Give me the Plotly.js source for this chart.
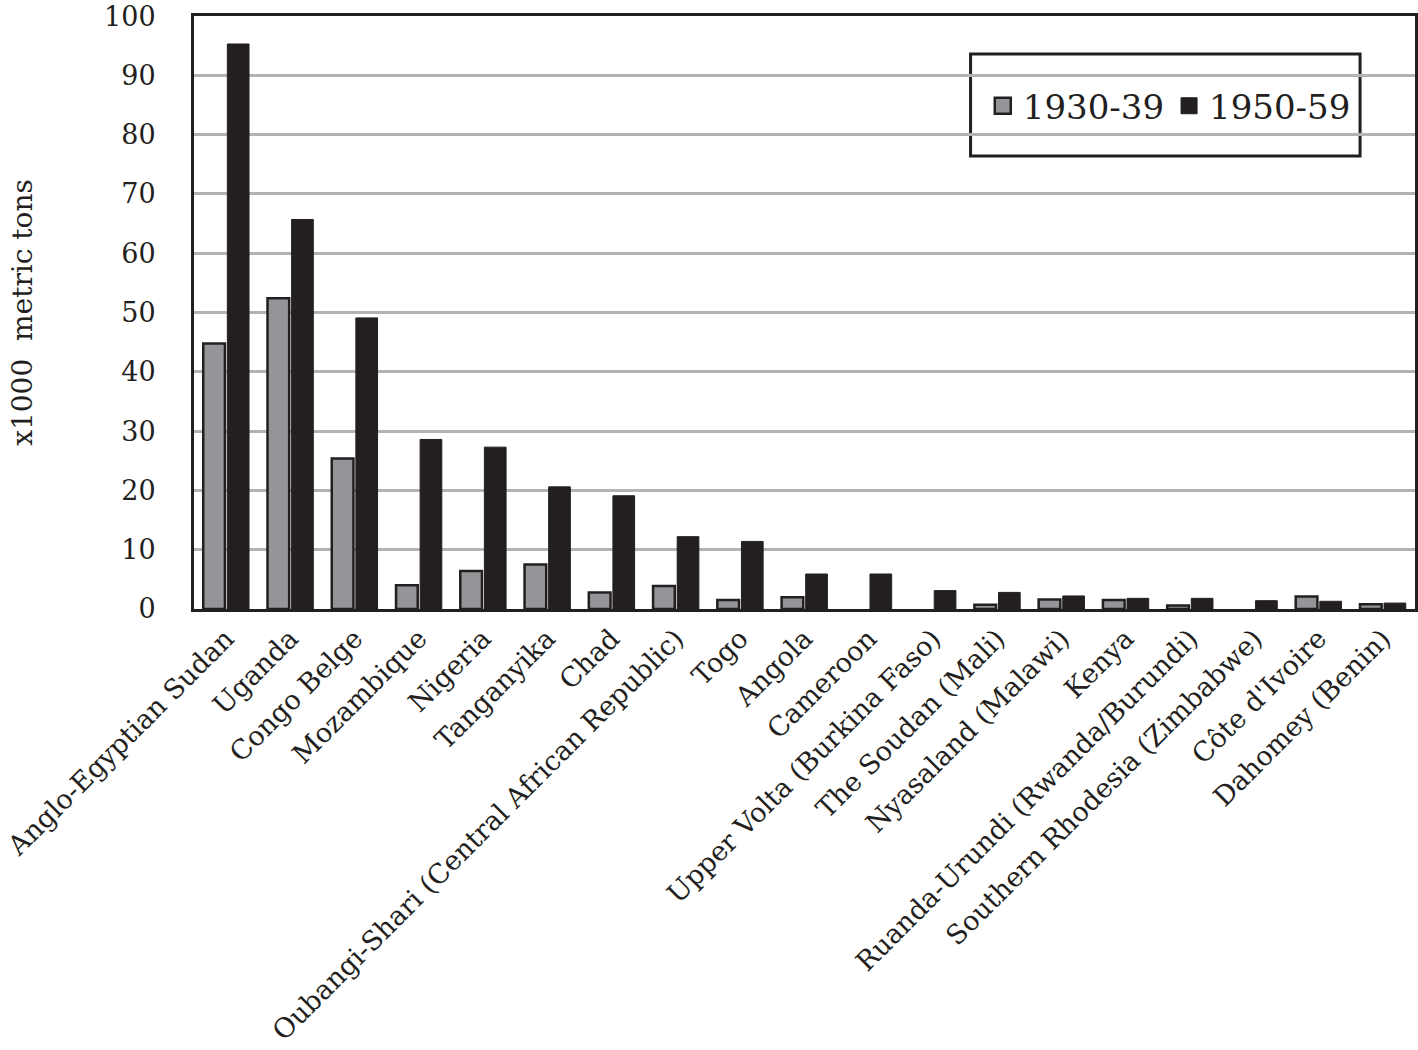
<!DOCTYPE html>
<html>
<head>
<meta charset="utf-8">
<script src="https://cdn.plot.ly/plotly-3.0.1.min.js"></script>
<style>html,body{margin:0;padding:0;background:#fff;}#chart{width:1418px;height:1050px;}</style>
</head>
<body>
<div id="chart"></div>
<script>
const categories = [
  "Anglo-Egyptian Sudan", "Uganda", "Congo Belge", "Mozambique", "Nigeria",
  "Tanganyika", "Chad", "Oubangi-Shari (Central African Republic)", "Togo", "Angola",
  "Cameroon", "Upper Volta (Burkina Faso)", "The Soudan (Mali)", "Nyasaland (Malawi)", "Kenya",
  "Ruanda-Urundi (Rwanda/Burundi)", "Southern Rhodesia (Zimbabwe)", "Côte d'Ivoire", "Dahomey (Benin)"
];
const values1930s = [44.8, 52.4, 25.4, 4.0, 6.4, 7.5, 2.8, 3.9, 1.5, 2.0, null, null, 0.7, 1.6, 1.5, 0.6, null, 2.1, 0.8];
const values1950s = [95.3, 65.7, 49.1, 28.6, 27.3, 20.6, 19.1, 12.2, 11.4, 5.9, 5.9, 3.1, 2.8, 2.2, 1.8, 1.8, 1.4, 1.3, 1.0];
const seriesNames = ["1930-39", "1950-59"];
const yTicks = [0, 10, 20, 30, 40, 50, 60, 70, 80, 90, 100];

const FONT = "DejaVu Serif, serif";
const INK = "#231f20";
const GREY = "#939598";

const data = [
  {type: "bar", name: seriesNames[0], x: categories, y: values1930s, showlegend: false,
   marker: {color: GREY, line: {color: INK, width: 2.5}}},
  {type: "bar", name: seriesNames[1], x: categories, y: values1950s, showlegend: false,
   marker: {color: INK, line: {color: INK, width: 1}}},
  // legend entries with larger square swatches
  {type: "scatter", mode: "markers", name: seriesNames[0], x: [null], y: [null],
   marker: {symbol: "square", size: 20, color: GREY, line: {color: INK, width: 2.5}}},
  {type: "scatter", mode: "markers", name: seriesNames[1], x: [null], y: [null],
   marker: {symbol: "square", size: 22, color: INK, line: {color: INK, width: 1}}}
];

const layout = {
  width: 1418, height: 1050,
  margin: {l: 194, r: 3, t: 16, b: 441},
  paper_bgcolor: "#fff", plot_bgcolor: "#fff",
  barmode: "group", bargap: 0.25, bargroupgap: 0.1,
  font: {family: FONT, color: INK, size: 28},
  showlegend: true,
  legend: {orientation: "h", x: 0.646, y: 0.848, xanchor: "left", yanchor: "middle",
           bgcolor: "rgba(0,0,0,0)", font: {family: FONT, size: 34, color: INK},
           itemwidth: 30, tracegroupgap: 0},
  shapes: [{type: "rect", xref: "paper", yref: "paper", x0: 0.636, x1: 0.955, y0: 0.764, y1: 0.936,
            line: {color: INK, width: 3}, fillcolor: "#fff", layer: "below"}],
  xaxis: {
    type: "category", tickangle: -45, showgrid: false,
    showline: true, linecolor: INK, linewidth: 3, mirror: true,
    ticks: "", tickfont: {family: FONT, size: 27, color: INK}, automargin: false
  },
  yaxis: {
    range: [0, 100.02], tickvals: yTicks, ticktext: yTicks.map(String),
    showgrid: true, gridcolor: "#b3b3b3", gridwidth: 3, zeroline: false,
    showline: true, linecolor: INK, linewidth: 3, mirror: true,
    ticks: "", ticklabelstandoff: 30, ticklabeloverflow: "allow",
    tickfont: {family: FONT, size: 27, color: INK}, automargin: false,
    title: {text: "x1000  metric tons", font: {family: FONT, size: 28, color: INK}, standoff: 64}
  }
};

Plotly.newPlot("chart", data, layout, {displayModeBar: false, staticPlot: true});
</script>
</body>
</html>
